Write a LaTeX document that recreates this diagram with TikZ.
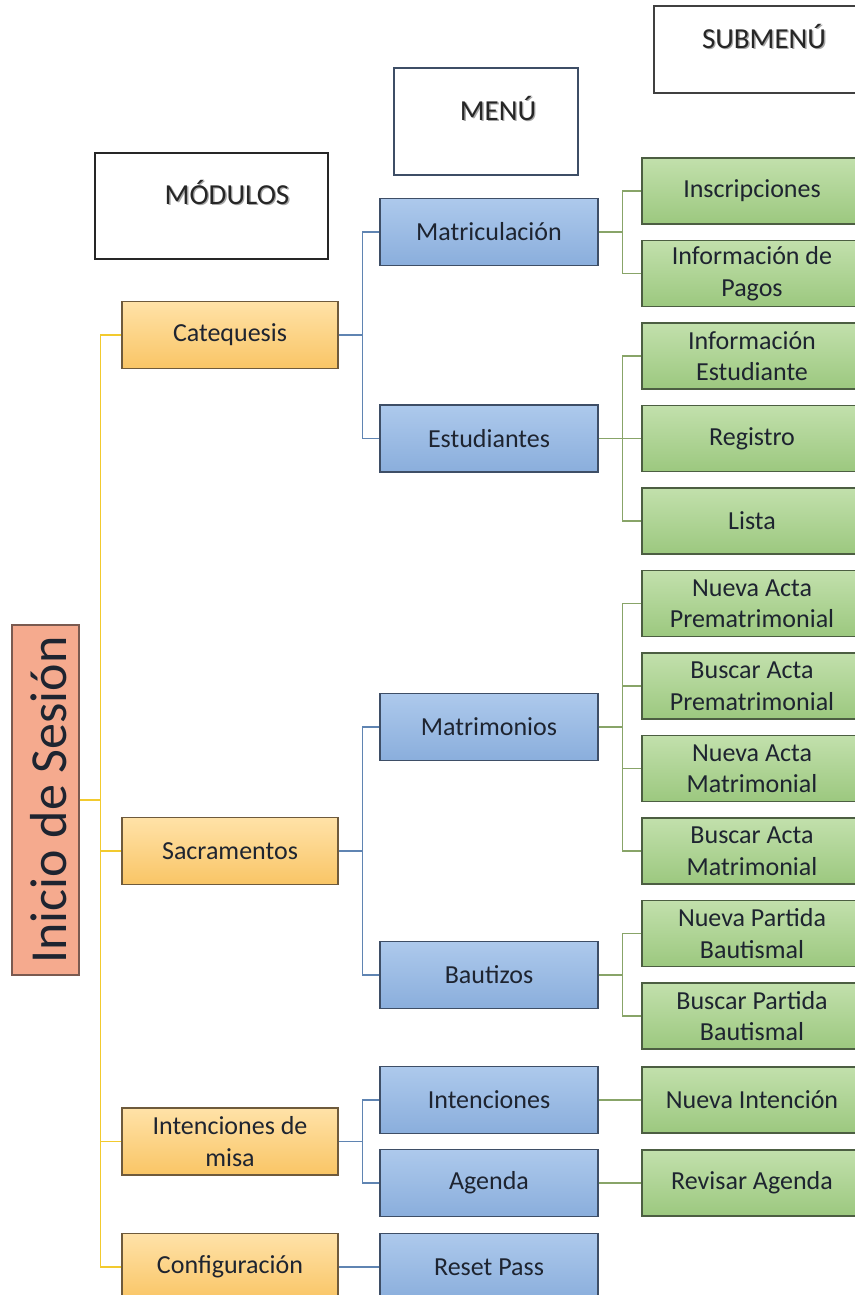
\documentclass[tikz,border=0pt]{standalone}
\usepackage{fontspec}
\setmainfont{Carlito}
\definecolor{orgtop}{HTML}{FFE2A8}
\definecolor{orgbot}{HTML}{F9C565}
\definecolor{orgline}{HTML}{6E5A3C}
\definecolor{blutop}{HTML}{ADC9EC}
\definecolor{blubot}{HTML}{8AAEDC}
\definecolor{bluline}{HTML}{3E4E66}
\definecolor{grntop}{HTML}{C2E0AC}
\definecolor{grnbot}{HTML}{9CC87F}
\definecolor{grnline}{HTML}{4C5E42}
\definecolor{salfill}{HTML}{F5AA8E}
\definecolor{salline}{HTML}{7A5A50}
\definecolor{ylink}{HTML}{F2CA2E}
\definecolor{blink}{HTML}{5F84B2}
\definecolor{glink}{HTML}{88A468}
\definecolor{txt}{HTML}{1E2430}
% heading text with a soft drop shadow
\newcommand\shtext[1]{\makebox[0pt][l]{\kern1.4pt\raisebox{-1.4pt}{\color{black!35}#1}}#1}
\tikzset{
  box/.style={draw, line width=1.3pt, rectangle, inner sep=0pt, align=center,
    text=txt, font=\fontsize{26}{31.5}\selectfont},
  modbox/.style={box, draw=orgline, top color=orgtop, bottom color=orgbot,
    minimum width=216, minimum height=67},
  menubox/.style={box, draw=bluline, top color=blutop, bottom color=blubot,
    minimum width=218, minimum height=67},
  subbox/.style={box, draw=grnline, top color=grntop, bottom color=grnbot,
    minimum width=220, minimum height=66},
  hdrbox/.style={draw, line width=1.4pt, fill=white, rectangle, inner sep=0pt},
  hdrtext/.style={inner sep=0pt, text=black!85, font=\fontsize{29}{34}\selectfont},
  ylk/.style={draw=ylink, line width=1.6pt},
  blk/.style={draw=blink, line width=1.6pt},
  glk/.style={draw=glink, line width=1.6pt},
}
\begin{document}
\begin{tikzpicture}[x=1pt,y=-1pt]
\useasboundingbox (0,0) rectangle (854,1295);

% column headings
\node[hdrbox, draw=black!85, minimum width=233, minimum height=106] (hmod) at (211.5,206) {};
\node[hdrtext] (hmodt) at (227,193) {\shtext{MÓDULOS}};
\node[hdrbox, draw=bluline, minimum width=184, minimum height=107] (hmen) at (486,121.5) {};
\node[hdrtext] (hment) at (498,109) {\shtext{MENÚ}};
\node[hdrbox, draw=black!75, minimum width=221, minimum height=87] (hsub) at (764.5,49.5) {};
\node[hdrtext] (hsubt) at (764,37) {\shtext{SUBMENÚ}};

% root
\node[draw=salline, fill=salfill, line width=1.3pt, minimum width=67, minimum height=350,
  inner sep=0pt] (ini) at (45.5,800) {};
\node[rotate=90, text=txt, font=\fontsize{52}{60}\selectfont, inner sep=0pt] (init) at (49,800) {Inicio de Sesión};

% modules
\node[modbox] (cat) at (230,335) {Catequesis};
\node[modbox] (sac) at (230,851) {Sacramentos};
\node[modbox] (int) at (230,1141.5) {Intenciones de\\misa};
\node[modbox] (cfg) at (230,1267) {Configuración};

% menus
\node[menubox] (mat) at (489,232) {Matriculación};
\node[menubox] (est) at (489,438.5) {Estudiantes};
\node[menubox] (mtr) at (489,727) {Matrimonios};
\node[menubox] (bau) at (489,975) {Bautizos};
\node[menubox] (inn) at (489,1100) {Intenciones};
\node[menubox] (age) at (489,1183) {Agenda};
\node[menubox] (rsp) at (489,1267) {Reset Pass};

% submenus
\node[subbox] (s1) at (752,191) {Inscripciones};
\node[subbox] (s2) at (752,273.5) {Información de\\Pagos};
\node[subbox] (s3) at (752,356) {Información\\Estudiante};
\node[subbox] (s4) at (752,438.5) {Registro};
\node[subbox] (s5) at (752,521) {Lista};
\node[subbox] (s6) at (752,603.5) {Nueva Acta\\Prematrimonial};
\node[subbox] (s7) at (752,686) {Buscar Acta\\Prematrimonial};
\node[subbox] (s8) at (752,768.5) {Nueva Acta\\Matrimonial};
\node[subbox] (s9) at (752,851) {Buscar Acta\\Matrimonial};
\node[subbox] (s10) at (752,933.5) {Nueva Partida\\Bautismal};
\node[subbox] (s11) at (752,1016) {Buscar Partida\\Bautismal};
\node[subbox] (s12) at (752,1100) {Nueva Intención};
\node[subbox] (s13) at (752,1183) {Revisar Agenda};

% root to modules
\draw[ylk] (ini.east) -- ++(21,0) coordinate (yb);
\draw[ylk] (yb) |- (cat.west);
\draw[ylk] (yb) |- (sac.west);
\draw[ylk] (yb) |- (int.west);
\draw[ylk] (yb) |- (cfg.west);

% modules to menus
\draw[blk] (cat.east) -- ++(24,0) coordinate (b1);
\draw[blk] (b1) |- (mat.west);
\draw[blk] (b1) |- (est.west);
\draw[blk] (sac.east) -- ++(24,0) coordinate (b2);
\draw[blk] (b2) |- (mtr.west);
\draw[blk] (b2) |- (bau.west);
\draw[blk] (int.east) -- ++(24,0) coordinate (b3);
\draw[blk] (b3) |- (inn.west);
\draw[blk] (b3) |- (age.west);
\draw[blk] (cfg.east) -- (rsp.west);

% menus to submenus
\draw[glk] (mat.east) -- ++(24,0) coordinate (g1);
\draw[glk] (g1) |- (s1.west);
\draw[glk] (g1) |- (s2.west);
\draw[glk] (est.east) -- ++(24,0) coordinate (g2);
\draw[glk] (g2) |- (s3.west);
\draw[glk] (g2) |- (s4.west);
\draw[glk] (g2) |- (s5.west);
\draw[glk] (mtr.east) -- ++(24,0) coordinate (g3);
\draw[glk] (g3) |- (s6.west);
\draw[glk] (g3) |- (s7.west);
\draw[glk] (g3) |- (s8.west);
\draw[glk] (g3) |- (s9.west);
\draw[glk] (bau.east) -- ++(24,0) coordinate (g4);
\draw[glk] (g4) |- (s10.west);
\draw[glk] (g4) |- (s11.west);
\draw[glk] (inn.east) -- (s12.west);
\draw[glk] (age.east) -- (s13.west);
\end{tikzpicture}
\end{document}
